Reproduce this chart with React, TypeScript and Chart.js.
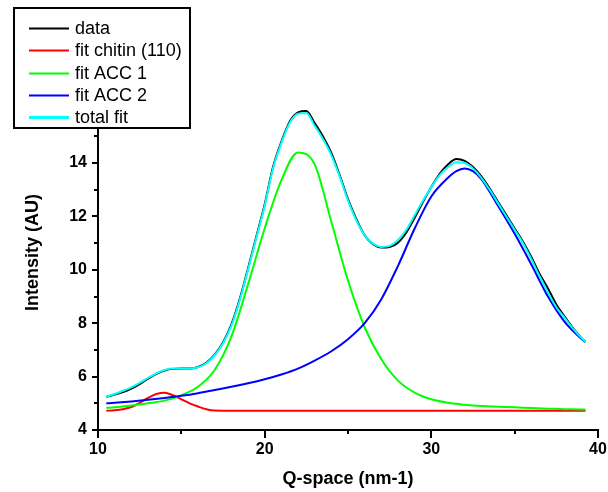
import React, { useEffect, useRef } from "react";
import { Chart, registerables } from "chart.js";

Chart.register(...registerables);

// ---- data ----
const qFit = [
  10.5, 11, 11.5, 12, 12.5, 13, 13.5, 14, 14.5, 15, 15.5, 16, 16.5, 17, 17.5, 18, 18.5, 19, 19.5, 20,
  20.5, 21, 21.5, 22, 22.5, 23, 23.5, 24, 24.5, 25, 25.5, 26, 26.5, 27, 27.5, 28, 28.5, 29, 29.5, 30,
  30.5, 31, 31.5, 32, 32.5, 33, 33.5, 34, 34.5, 35, 35.5, 36, 36.5, 37, 37.5, 38, 38.5, 39, 39.25,
];
const dataVals = [
  5.24, 5.33, 5.42, 5.55, 5.72, 5.92, 6.1, 6.23, 6.29, 6.3, 6.3, 6.36, 6.52, 6.82, 7.28, 7.95, 8.9, 10.05, 11.25, 12.45,
  13.85, 14.8, 15.55, 15.9, 15.95, 15.5, 15.0, 14.38, 13.55, 12.65, 11.9, 11.3, 10.96, 10.84, 10.86, 11.02, 11.4, 11.95, 12.55, 13.1,
  13.6, 13.95, 14.15, 14.08, 13.85, 13.5, 13.05, 12.55, 12.05, 11.55, 11.05, 10.48, 9.85, 9.3, 8.7, 8.25, 7.82, 7.45, 7.3,
];
const totalFit = [
  5.25, 5.35, 5.47, 5.6, 5.77, 5.95, 6.12, 6.25, 6.3, 6.3, 6.3, 6.35, 6.5, 6.8, 7.25, 7.9, 8.85, 10.0, 11.2, 12.4,
  13.8, 14.75, 15.5, 15.85, 15.88, 15.4, 14.9, 14.3, 13.5, 12.6, 11.85, 11.3, 10.98, 10.86, 10.9, 11.12, 11.5, 12.05, 12.6, 13.1,
  13.55, 13.85, 14.03, 14.0, 13.8, 13.45, 13.0, 12.5, 12.0, 11.5, 11.0, 10.4, 9.75, 9.15, 8.6, 8.2, 7.8, 7.45, 7.3,
];
const qComp = [
  10.5, 11, 12, 13, 14, 15, 16, 17, 18, 19, 20, 21, 22, 23, 24, 25, 26, 27, 28, 29, 30, 31, 31.5, 32, 32.5, 33,
  34, 35, 36, 37, 38, 39, 39.25,
];
const acc1 = [
  4.83, 4.85, 4.92, 5.0, 5.1, 5.3, 5.62, 6.25, 7.5, 9.45, 11.55, 13.35, 14.4, 13.95, 11.8, 9.6, 7.85, 6.65, 5.85, 5.4, 5.15, 5.02, 4.98, 4.95, 4.92, 4.9,
  4.87, 4.85, 4.82, 4.8, 4.78, 4.77, 4.76,
];
const acc2 = [
  5.0, 5.02, 5.07, 5.13, 5.2, 5.28, 5.38, 5.5, 5.62, 5.75, 5.9, 6.08, 6.3, 6.6, 6.95, 7.4, 8.0, 8.9, 10.15, 11.55, 12.75, 13.45, 13.7, 13.8, 13.7, 13.4,
  12.4, 11.35, 10.2, 9.0, 8.05, 7.42, 7.3,
];
const qChitin = [10.5, 11, 11.5, 12, 12.5, 13, 13.5, 14, 14.5, 15, 15.5, 16, 16.5, 17, 18, 20, 25, 30, 35, 39.25];
const chitin = [4.72, 4.74, 4.78, 4.86, 5.02, 5.2, 5.35, 5.4, 5.3, 5.15, 5.0, 4.88, 4.78, 4.73, 4.72, 4.72, 4.72, 4.72, 4.72, 4.72];

const xMajorTicks = [10, 20, 30, 40];
const xMinorTicks = [15, 25, 35];
const yMajorTicks = [4, 6, 8, 10, 12, 14, 16];
const yMinorTicks = [5, 7, 9, 11, 13, 15, 17];

const seriesNames = ["data", "fit chitin (110)", "fit ACC 1", "fit ACC 2", "total fit"];
const seriesColors = ["#000000", "#ff0000", "#00ff00", "#0000ff", "#00ffff"];

const FONT = "'Liberation Sans', Arial, sans-serif";

const pts = (xs: number[], ys: number[]) => xs.map((x, i) => ({ x, y: ys[i] }));

const decorPlugin = {
  id: "decor",
  afterDraw(chart: any) {
    const ctx = chart.ctx as CanvasRenderingContext2D;
    const xs = chart.scales.x;
    const ys = chart.scales.y;
    const { left, bottom } = chart.chartArea;
    ctx.save();
    ctx.strokeStyle = "#000";
    ctx.lineWidth = 2;
    ctx.beginPath();
    xMajorTicks.forEach((v) => {
      const p = Math.round(xs.getPixelForValue(v));
      ctx.moveTo(p, bottom);
      ctx.lineTo(p, bottom + 8);
    });
    xMinorTicks.forEach((v) => {
      const p = Math.round(xs.getPixelForValue(v));
      ctx.moveTo(p, bottom);
      ctx.lineTo(p, bottom + 4);
    });
    yMajorTicks.forEach((v) => {
      const p = Math.round(ys.getPixelForValue(v));
      ctx.moveTo(left - 6, p);
      ctx.lineTo(left, p);
    });
    yMinorTicks.forEach((v) => {
      const p = Math.round(ys.getPixelForValue(v));
      ctx.moveTo(left - 4, p);
      ctx.lineTo(left, p);
    });
    ctx.stroke();

    // legend box
    const bx = 14, by = 8, bw = 176, bh = 120;
    ctx.fillStyle = "#fff";
    ctx.fillRect(bx, by, bw, bh);
    ctx.lineWidth = 2;
    ctx.strokeStyle = "#000";
    ctx.strokeRect(bx, by, bw, bh);
    ctx.font = `18px ${FONT}`;
    ctx.textBaseline = "middle";
    ctx.textAlign = "left";
    seriesNames.forEach((name, i) => {
      const y = 28 + i * 22.3;
      ctx.strokeStyle = seriesColors[i];
      ctx.lineWidth = i === 4 ? 3 : 2;
      ctx.beginPath();
      ctx.moveTo(29, Math.round(y) + 0.5);
      ctx.lineTo(69, Math.round(y) + 0.5);
      ctx.stroke();
      ctx.fillStyle = "#000";
      ctx.fillText(name, 75, y + 1);
    });
    ctx.restore();
  },
};

export default function App() {
  const ref = useRef<HTMLCanvasElement>(null);
  useEffect(() => {
    if (!ref.current) return;
    const mk = (i: number, data: any[], order: number) => ({
      label: seriesNames[i],
      data,
      borderColor: seriesColors[i],
      backgroundColor: seriesColors[i],
      borderWidth: 2,
      pointRadius: 0,
      fill: false,
      cubicInterpolationMode: "monotone" as const,
      order,
    });
    const chart = new Chart(ref.current, {
      type: "line",
      data: {
        datasets: [
          mk(0, pts(qFit, dataVals), 4),
          mk(1, pts(qChitin, chitin), 3),
          mk(2, pts(qComp, acc1), 2),
          mk(3, pts(qComp, acc2), 1),
          mk(4, pts(qFit, totalFit), 0),
        ],
      },
      options: {
        animation: false,
        responsive: true,
        maintainAspectRatio: false,
        layout: { padding: { top: 75, right: 10, left: 0, bottom: 0 } },
        plugins: { legend: { display: false }, tooltip: { enabled: false } },
        scales: {
          x: {
            type: "linear",
            min: 10,
            max: 40,
            grid: { display: false, drawTicks: false },
            border: { display: true, color: "#000", width: 2 },
            ticks: {
              stepSize: 10,
              color: "#000",
              padding: 10,
              maxRotation: 0,
              font: { family: FONT, size: 16, weight: "bold" },
            },
            title: {
              display: true,
              text: "Q-space (nm-1)",
              color: "#000",
              font: { family: FONT, size: 18, weight: "bold" },
              padding: { top: 0, bottom: 2 },
            },
            afterFit: (s: any) => {
              s.height = 62;
              s.paddingLeft = 0;
              s.paddingRight = 0;
            },
          },
          y: {
            type: "linear",
            min: 4,
            max: 17.3,
            grid: { display: false, drawTicks: false },
            border: { display: true, color: "#000", width: 2 },
            ticks: {
              stepSize: 2,
              includeBounds: false,
              color: "#000",
              padding: 11,
              font: { family: FONT, size: 16, weight: "bold" },
              callback: (v: any) => (yMajorTicks.includes(Number(v)) ? String(v) : ""),
            },
            title: {
              display: true,
              text: "Intensity (AU)",
              color: "#000",
              font: { family: FONT, size: 18, weight: "bold" },
              padding: { top: 22, bottom: 0 },
            },
            afterFit: (s: any) => {
              s.width = 98;
              s.paddingTop = 0;
              s.paddingBottom = 0;
            },
          },
        },
      },
      plugins: [decorPlugin],
    });
    return () => chart.destroy();
  }, []);
  return (
    <div style={{ position: "fixed", left: 0, top: 0, width: 608, height: 492, background: "#fff" }}>
      <canvas ref={ref} />
    </div>
  );
}
